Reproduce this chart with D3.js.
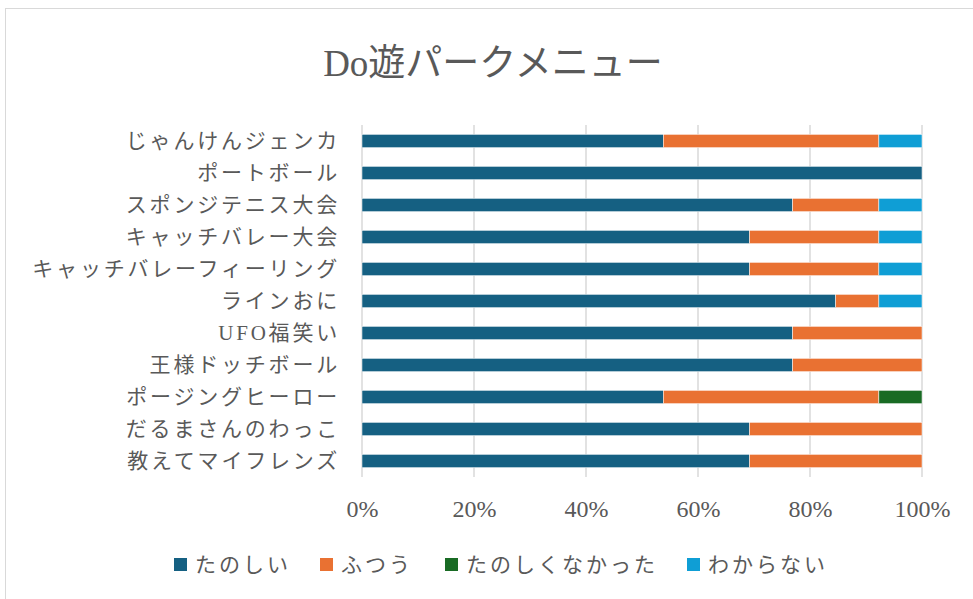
<!DOCTYPE html>
<html>
<head>
<meta charset="utf-8">
<script src="https://cdn.jsdelivr.net/npm/d3@7"></script>
<style>
  html, body { margin: 0; padding: 0; background: #fff; }
  #chart { width: 973px; height: 599px; }
</style>
</head>
<body>
<div id="chart"></div>
<script>
const categories = [
  "じゃんけんジェンカ",
  "ポートボール",
  "スポンジテニス大会",
  "キャッチバレー大会",
  "キャッチバレーフィーリング",
  "ラインおに",
  "UFO福笑い",
  "王様ドッチボール",
  "ポージングヒーロー",
  "だるまさんのわっこ",
  "教えてマイフレンズ"
];
const seriesNames = ["たのしい", "ふつう", "たのしくなかった", "わからない"];
const tanoshii     = [53.8, 100, 76.9, 69.2, 69.2, 84.6, 76.9, 76.9, 53.8, 69.2, 69.2];
const futsuu       = [38.5, 0, 15.4, 23.1, 23.1, 7.7, 23.1, 23.1, 38.5, 30.8, 30.8];
const tanoshikunai = [0, 0, 0, 0, 0, 0, 0, 0, 7.7, 0, 0];
const wakaranai    = [7.7, 0, 7.7, 7.7, 7.7, 7.7, 0, 0, 0, 0, 0];
const tickValues = [0, 0.2, 0.4, 0.6, 0.8, 1.0];
const colors = ["#156082", "#E97132", "#196B24", "#0F9ED5"];

const width = 973, height = 599;
const margin = { top: 125, right: 51, bottom: 122, left: 362 };
const iW = width - margin.left - margin.right;
const iH = height - margin.top - margin.bottom;
const textColor = "#595959";
const serif = "'Liberation Serif', 'Noto Sans CJK JP', serif";

const table = categories.map((c, i) => {
  const vals = [tanoshii[i], futsuu[i], tanoshikunai[i], wakaranai[i]];
  const total = d3.sum(vals);
  const row = { name: c };
  seriesNames.forEach((s, j) => row[s] = vals[j] / total);
  return row;
});
const stacked = d3.stack().keys(seriesNames)(table);

const svg = d3.select("#chart").append("svg")
  .attr("width", width)
  .attr("height", height);

svg.append("rect")
  .attr("x", 5.5).attr("y", 8.5)
  .attr("width", 980).attr("height", 600)
  .style("fill", "#fff")
  .style("stroke", "#d9d9d9")
  .style("stroke-width", 1);

svg.append("text")
  .attr("x", 493)
  .attr("y", 76)
  .style("text-anchor", "middle")
  .style("font-family", serif)
  .style("font-size", "37px")
  .style("fill", textColor)
  .text("Do遊パークメニュー");

const g = svg.append("g")
  .attr("transform", `translate(${margin.left},${margin.top})`);

const x = d3.scaleLinear().domain([0, 1]).range([0, iW]);
const y = d3.scaleBand().domain(categories).range([0, iH]).paddingInner(0.585).paddingOuter(0.2925);

g.selectAll(".grid")
  .data(tickValues)
  .join("line")
  .attr("x1", d => x(d)).attr("x2", d => x(d))
  .attr("y1", 0).attr("y2", iH)
  .style("stroke", "#d9d9d9")
  .style("stroke-width", 1.5);

g.append("g")
  .attr("transform", `translate(0,${iH})`)
  .call(d3.axisBottom(x).tickValues(tickValues).tickSize(0).tickPadding(23).tickFormat(d3.format(".0%")))
  .call(a => a.select(".domain").remove())
  .call(a => a.selectAll("text")
    .style("font-family", serif)
    .style("font-size", "24px")
    .style("fill", textColor));

g.append("g")
  .call(d3.axisLeft(y).tickSize(0).tickPadding(22))
  .call(a => a.select(".domain").remove())
  .call(a => a.selectAll("text")
    .style("font-family", serif)
    .style("font-size", "21px")
    .style("letter-spacing", "2.8px")
    .style("fill", textColor));

g.selectAll(".series")
  .data(stacked)
  .join("g")
  .style("fill", (d, i) => colors[i])
  .selectAll("rect")
  .data(d => d.map((v, i) => ({ v, name: categories[i] })))
  .join("rect")
  .attr("x", d => x(d.v[0]))
  .attr("y", d => y(d.name))
  .attr("width", d => x(d.v[1]) - x(d.v[0]))
  .attr("height", y.bandwidth())
  .style("stroke", "#fff")
  .style("stroke-width", 0.5);

const legendX = [174, 320, 445, 687];
const legend = svg.append("g");
seriesNames.forEach((s, i) => {
  legend.append("rect")
    .attr("x", legendX[i]).attr("y", 558)
    .attr("width", 13).attr("height", 13)
    .style("fill", colors[i]);
  legend.append("text")
    .attr("x", legendX[i] + 21).attr("y", 572)
    .style("font-family", serif)
    .style("font-size", "21px")
    .style("letter-spacing", "3px")
    .style("fill", textColor)
    .text(s);
});
</script>
</body>
</html>
